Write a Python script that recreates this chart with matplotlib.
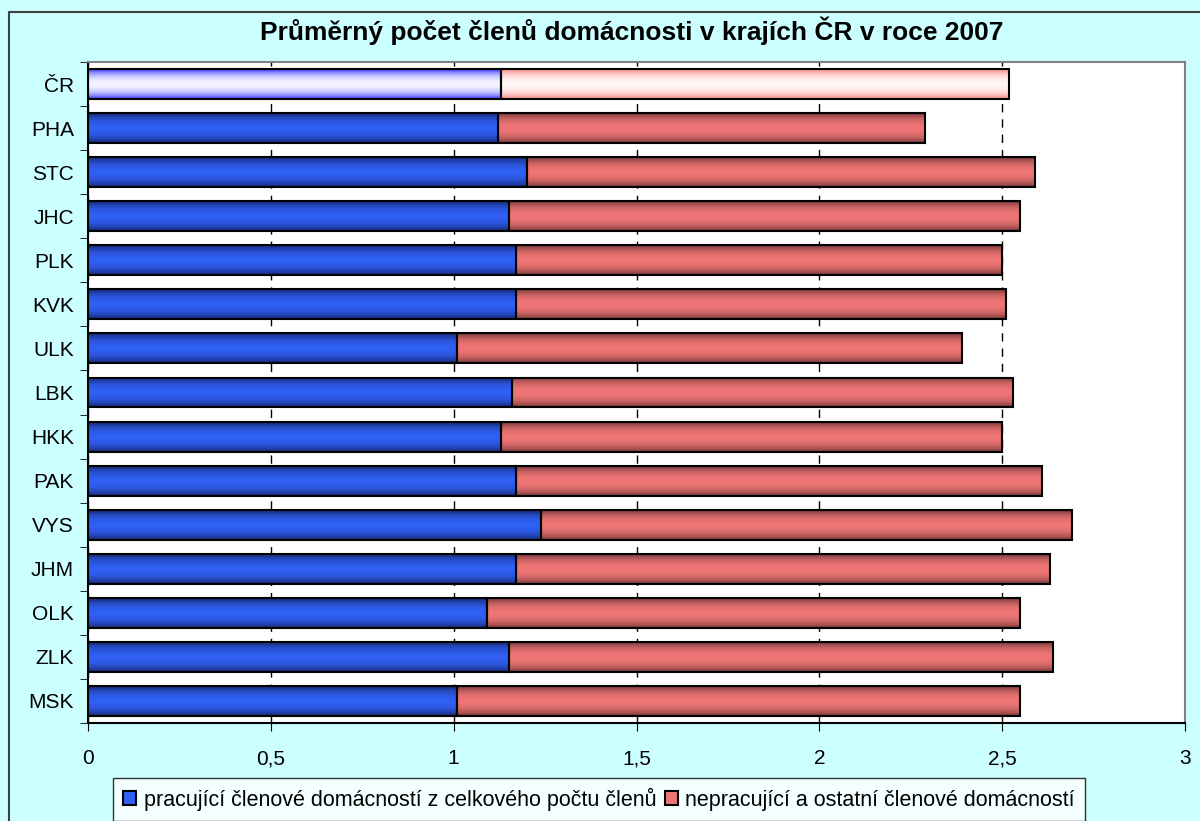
import numpy as np
import matplotlib.pyplot as plt
from matplotlib.patches import Patch
from matplotlib.lines import Line2D
from matplotlib.colors import to_rgb

regions = ['ČR', 'PHA', 'STC', 'JHC', 'PLK', 'KVK', 'ULK', 'LBK', 'HKK',
           'PAK', 'VYS', 'JHM', 'OLK', 'ZLK', 'MSK']
working = [1.13, 1.12, 1.20, 1.15, 1.17, 1.17, 1.01, 1.16, 1.13,
           1.17, 1.24, 1.17, 1.09, 1.15, 1.01]
total = [2.52, 2.29, 2.59, 2.55, 2.50, 2.51, 2.39, 2.53, 2.50,
         2.61, 2.69, 2.63, 2.55, 2.64, 2.55]
other = [round(t - w, 2) for t, w in zip(total, working)]

label_work = 'pracující členové domácností z celkového počtu členů'
label_other = 'nepracující a ostatní členové domácností'
title = 'Průměrný počet členů domácnosti v krajích ČR v roce 2007'


def gradient(edge, center, n=64):
    """Vertical band gradient: dark at the edges, light in the middle."""
    t = np.linspace(0, 1, n)
    w = np.sin(np.pi * t) ** 0.6
    e = np.array(to_rgb(edge))
    c = np.array(to_rgb(center))
    img = e[None, :] * (1 - w[:, None]) + c[None, :] * w[:, None]
    return img[:, None, :]


def fill_bars(ax, bars, normal, special):
    for i, bar in enumerate(bars):
        x0, y0 = bar.get_x(), bar.get_y()
        x1, y1 = x0 + bar.get_width(), y0 + bar.get_height()
        img = gradient(*(special if i == 0 else normal))
        im = ax.imshow(img, extent=[x0, x1, y1, y0], aspect='auto',
                       zorder=2, interpolation='bilinear')
        im.set_clip_path(bar)
        bar.set_facecolor('none')
        bar.set_zorder(3)


font = 'Liberation Sans'
fig = plt.figure(figsize=(12, 8.21), dpi=100, facecolor='#CCFFFF')
# outer chart frame (right and bottom edges fall outside the picture)
fig.add_artist(Line2D([9 / 1200, 9 / 1200, 1.01], [-0.01, 1 - 12 / 821,
                                                    1 - 12 / 821],
                      transform=fig.transFigure, color='#404040',
                      linewidth=1.5))
ax = fig.add_axes([88 / 1200, 98 / 821, 1097 / 1200, 661 / 821])
ax.set_facecolor('white')

y = np.arange(len(regions))
b1 = ax.barh(y, working, height=0.68, edgecolor='black', linewidth=1.5,
             label=label_work)
b2 = ax.barh(y, other, left=working, height=0.68, edgecolor='black',
             linewidth=1.5, label=label_other)
fill_bars(ax, b1, ('#101c55', '#3060F5'), ('#1010ff', '#f4f4ff'))
fill_bars(ax, b2, ('#5e2c2c', '#F07676'), ('#ff7070', '#fff6f6'))

ax.set_xlim(0, 3)
ax.set_ylim(len(regions) - 0.5, -0.5)
ax.set_xticks(np.arange(0, 3.01, 0.5))
ax.set_xticklabels(['0', '0,5', '1', '1,5', '2', '2,5', '3'])
ax.set_yticks(y)
ax.set_yticklabels(regions)
ax.set_yticks(np.arange(-0.5, len(regions), 1), minor=True)
ax.tick_params(axis='y', which='major', length=0, pad=10)
ax.tick_params(axis='y', which='minor', length=6, direction='out')
ax.tick_params(axis='x', length=6, direction='out', pad=13)
for t in ax.get_xticklabels() + ax.get_yticklabels():
    t.set_family(font)
    t.set_fontsize(15)
ax.set_axisbelow(True)
ax.xaxis.grid(True, linestyle=(0, (6, 5)), color='black', linewidth=1)
for s in ax.spines.values():
    s.set_color('#808080')
    s.set_linewidth(1.5)
ax.spines['left'].set_color('black')
ax.spines['bottom'].set_color('black')

fig.text(632 / 1200, 1 - 31 / 821, title, ha='center', va='center',
         fontsize=19, fontweight='bold', family=font)

handles = [Patch(facecolor='#3060F5', edgecolor='black', linewidth=1.5),
           Patch(facecolor='#F07676', edgecolor='black', linewidth=1.5)]
leg = fig.legend(handles, [label_work, label_other], loc='upper center',
                 bbox_to_anchor=(599 / 1200, 1 - 778 / 821), ncol=2,
                 frameon=True, fancybox=False, edgecolor='black',
                 prop={'family': font, 'size': 15.5},
                 handlelength=0.6, handleheight=0.6, handletextpad=0.35,
                 columnspacing=0.4, borderpad=0.45, borderaxespad=0)
leg.get_frame().set_linewidth(1)

fig.savefig('out.png', dpi=100, facecolor=fig.get_facecolor())
